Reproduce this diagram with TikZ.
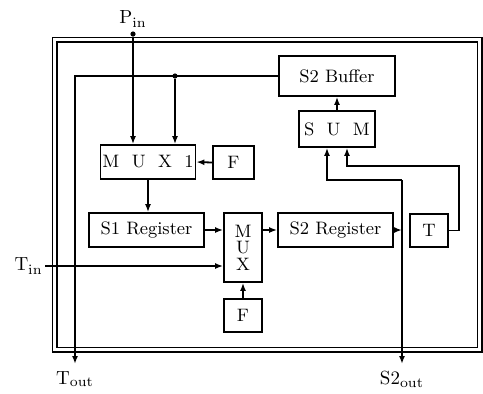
\documentclass[tikz,border=0pt]{standalone}
\usepackage{tikz}
\usetikzlibrary{arrows.meta, positioning, calc}

\begin{document}
\begin{tikzpicture}[
    x=0.5pt, y=-0.5pt,
    box/.style={
      rectangle,
      draw=black,
      line width=0.9pt,
      align=center,
      inner sep=1pt,
      font=\fontsize{9}{10}\selectfont
    },
    lbl/.style={inner sep=1pt, font=\fontsize{9.5}{10}\selectfont},
    arrow/.style={-{Latex[length=4pt,width=3pt]}, line width=0.9pt},
    dot/.style={circle, fill=black, inner sep=0pt, minimum size=2.6pt}
]
\useasboundingbox (0,0) rectangle (483,393);

% outer frame
\draw[double, double distance=1.6pt, line width=0.7pt] (54.5,39.5) rectangle (479.5,349.5);

% blocks
\node[box, minimum width=58pt, minimum height=20pt] (buf) at (337,76) {S2\ Buffer};
\node[box, minimum width=38pt, minimum height=18pt] (sum) at (337,129) {S\ \ U\ \ M};
\node[box, minimum width=46pt, minimum height=17pt] (mux1) at (148,162) {M\ \ U\ \ X\ \ 1};
\node[box, minimum width=20.5pt, minimum height=16.5pt] (f1) at (233.5,162.5) {F};
\node[box, minimum width=57.5pt, minimum height=17pt] (s1reg) at (146.5,230) {S1 Register};
\node[box, minimum width=19pt, minimum height=34.5pt, font=\fontsize{9}{8.3}\selectfont] (mux) at (243,247.5) {M\\U\\X};
\node[box, minimum width=19pt, minimum height=16.5pt] (f2) at (243,315.5) {F};
\node[box, minimum width=57.5pt, minimum height=17pt] (s2reg) at (335.5,230) {S2 Register};
\node[box, minimum width=19pt, minimum height=16.5pt] (tbox) at (429,230.5) {T};

% terminals
\node[lbl] (pin) at (133,19) {P$_{\mathrm{in}}$};
\node[dot] (pdot) at (133,34) {};
\node[lbl, anchor=east] (tin) at (45,266) {T$_{\mathrm{in}}$};
\node[lbl, anchor=north, inner sep=3.5pt] (tout) at (75,364) {T$_{\mathrm{out}}$};
\node[lbl, anchor=north, inner sep=3.5pt] (s2out) at (402,364) {S2$_{\mathrm{out}}$};
\node[dot] (j1) at (175,76) {};
\coordinate (k1) at (402,180);

% connections
\draw[arrow] (pdot) -- (pdot |- mux1.north);
\draw[arrow] (buf.west) -| (tout.north);
\draw[arrow] (j1) -- (j1 |- mux1.north);
\draw[arrow] (f1.west) -- (mux1.east);
\draw[arrow] (mux1.south) -- (mux1.south |- s1reg.north);
\draw[arrow] (s1reg.east) -- (s1reg.east -| mux.west);
\draw[arrow] (tin.east) -- (tin.east -| mux.west);
\draw[arrow] (f2.north) -- (mux.south);
\draw[arrow] (mux.east |- s2reg.west) -- (s2reg.west);
\draw[arrow] (s2reg.east) -- (s2reg.east -| k1);
\draw[arrow] (k1) -- (k1 |- tout.north);
\draw[arrow] (k1) -| ($(sum.south)+(-10,0)$);
\draw[arrow] (tbox.east) -- ++(10,0) |- ($(sum.south)+(10,18)$) -- ($(sum.south)+(10,0)$);
\draw[arrow] (sum.north) -- (buf.south);
\end{tikzpicture}
\end{document}
